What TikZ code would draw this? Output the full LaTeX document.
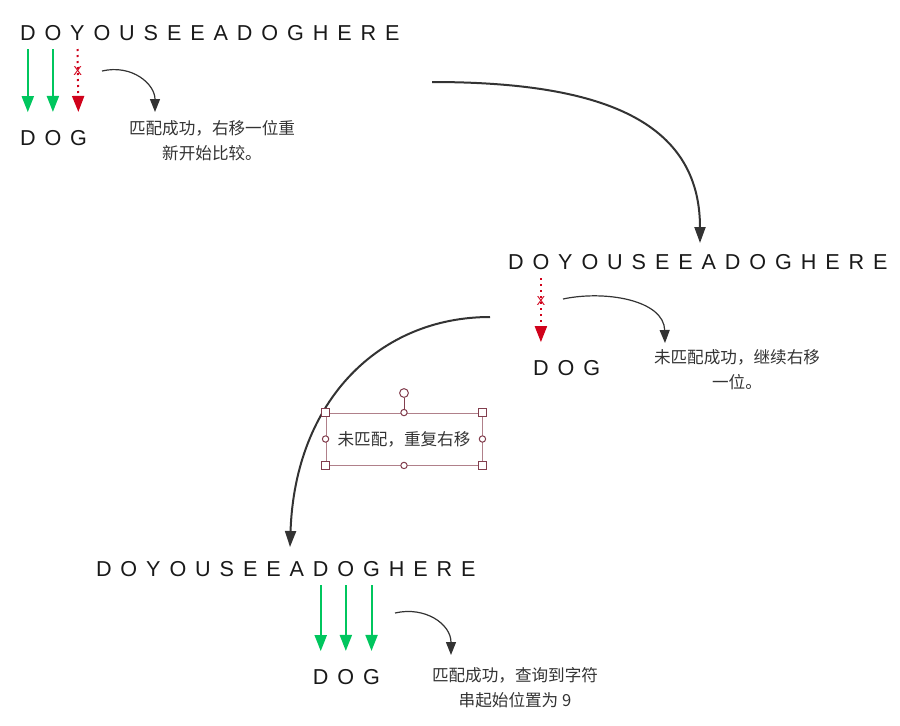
\documentclass[tikz,border=0pt]{standalone}
\usepackage{fontspec}
\setmainfont{Liberation Sans}
\newfontfamily\cjk{Noto Sans CJK SC}
\usetikzlibrary{arrows.meta,calc}

\definecolor{okgreen}{RGB}{0,198,94}
\definecolor{failred}{RGB}{208,2,27}
\definecolor{inkgray}{RGB}{51,51,51}
\definecolor{framecol}{RGB}{176,128,138}
\definecolor{handlecol}{RGB}{130,62,78}

% gap added between the letters of a tracked word
\def\trackgap{4.45pt}

% #1 name prefix, #2 anchor of the first letter, #3 its position, #4 letters
\newcommand\trackedword[4]{%
  \foreach \ch [count=\k] in {#4} {%
    \ifnum\k=1
      \node[letter, anchor=#2] (#1-1) at (#3) {\ch};
    \else
      \pgfmathtruncatemacro\prevk{\k-1}%
      \node[letter, anchor=base west] (#1-\k) at ([xshift=\trackgap]#1-\prevk.base east) {\ch};
    \fi
  }%
}

\tikzset{
  letter/.style={inner sep=0pt, outer sep=0pt, text=black!90,
    font=\fontsize{10.8}{12}\selectfont},
  note/.style={inner sep=0pt, text=inkgray, align=center,
    font=\cjk\fontsize{8.3}{12.4}\selectfont},
  match/.style={draw=okgreen, fill=okgreen, line width=1pt,
    -{Triangle[length=8pt,width=6pt]}, shorten <=4.5pt, shorten >=9pt},
  miss/.style={draw=failred, line width=1pt, dash pattern=on 1pt off 2pt,
    -{Triangle[length=8pt,width=6pt,fill=failred]}, shorten <=4.5pt, shorten >=9pt},
  xmark/.style={inner sep=0pt, text=failred, font=\fontsize{6.5}{6.5}\selectfont},
  curl/.style={draw=inkgray, line width=0.6pt, -{Triangle[length=6.5pt,width=5pt]}},
  bigcurve/.style={draw=inkgray, line width=1pt, -{Triangle[length=8pt,width=5.5pt]}},
  selbox/.style={draw=framecol, line width=0.45pt, minimum width=78pt,
    minimum height=26pt, inner sep=0pt, text=inkgray,
    font=\cjk\fontsize{8.3}{12}\selectfont},
  sqhandle/.style={draw=handlecol, fill=white, line width=0.5pt,
    minimum size=3.6pt, inner sep=0pt},
  cirhandle/.style={circle, draw=handlecol, fill=white, line width=0.5pt,
    minimum size=3.2pt, inner sep=0pt},
  rothandle/.style={circle, draw=handlecol, fill=white, line width=0.5pt,
    minimum size=4.4pt, inner sep=0pt},
}

\begin{document}
\begin{tikzpicture}[x=0.5pt, y=-0.5pt]
\useasboundingbox (0,0) rectangle (900,725);

% ---------- step 1: D O Y against D O G ----------
\trackedword{t1}{base west}{20,40}{D,O,Y,O,U,S,E,E,A,D,O,G,H,E,R,E}
\trackedword{d1}{base west}{20,145}{D,O,G}
\draw[match] (t1-1.south) -- (d1-1.north);
\draw[match] (t1-2.south) -- (d1-2.north);
\draw[miss] (t1-3.south) -- node[xmark, pos=0.35] (x1) {X} (d1-3.north);

\coordinate (c1s) at (102,71);
\coordinate (c1e) at (155,112);
\draw[curl] (c1s) .. controls (132,64) and (155,84) .. (c1e);
\node[note] (n1) at (212,141) {匹配成功，右移一位重\\新开始比较。};

\coordinate (b1s) at (432,82);
\coordinate (b1e) at (700,243);
\draw[bigcurve] (b1s) .. controls (600,82) and (700,120) .. (b1e);

% ---------- step 2: shifted by one ----------
\trackedword{t2}{base west}{508,269}{D,O,Y,O,U,S,E,E,A,D,O,G,H,E,R,E}
\trackedword{d2}{base}{t2-2.base |- 0,375}{D,O,G}
\draw[miss] (t2-2.south) -- node[xmark, pos=0.35] (x2) {X} (t2-2.south |- d2-1.north);

\coordinate (c2s) at (563,299);
\coordinate (c2e) at (665,343);
\draw[curl] (c2s) .. controls (605,290) and (664,300) .. (c2e);
\node[note] (n2) at (737,370) {未匹配成功，继续右移\\一位。};

\coordinate (b2s) at (490,317);
\coordinate (b2e) at (290,547);
\draw[bigcurve] (b2s) .. controls (380,317) and (295,400) .. (b2e);

% selected text box with its handles
\node[selbox] (sel) at (404,439) {未匹配，重复右移};
\foreach \a in {north west,north east,south west,south east}
  \node[sqhandle] at (sel.\a) {};
\foreach \a in {north,south,east,west}
  \node[cirhandle] at (sel.\a) {};
\node[rothandle] (rot) at (404,393) {};
\draw[handlecol, line width=0.5pt] (rot.south) -- ([yshift=1.6pt]sel.north);

% ---------- step 3: match found ----------
\trackedword{t3}{base west}{96,576}{D,O,Y,O,U,S,E,E,A,D,O,G,H,E,R,E}
\trackedword{d3}{base}{t3-10.base |- 0,684}{D,O,G}
\draw[match] (t3-10.south) -- (d3-1.north);
\draw[match] (t3-11.south) -- (d3-2.north);
\draw[match] (t3-12.south) -- (d3-3.north);

\coordinate (c3s) at (395,613);
\coordinate (c3e) at (451,655);
\draw[curl] (c3s) .. controls (425,606) and (451,624) .. (c3e);
\node[note] (n3) at (515,688) {匹配成功，查询到字符\\串起始位置为 9};
\end{tikzpicture}
\end{document}
